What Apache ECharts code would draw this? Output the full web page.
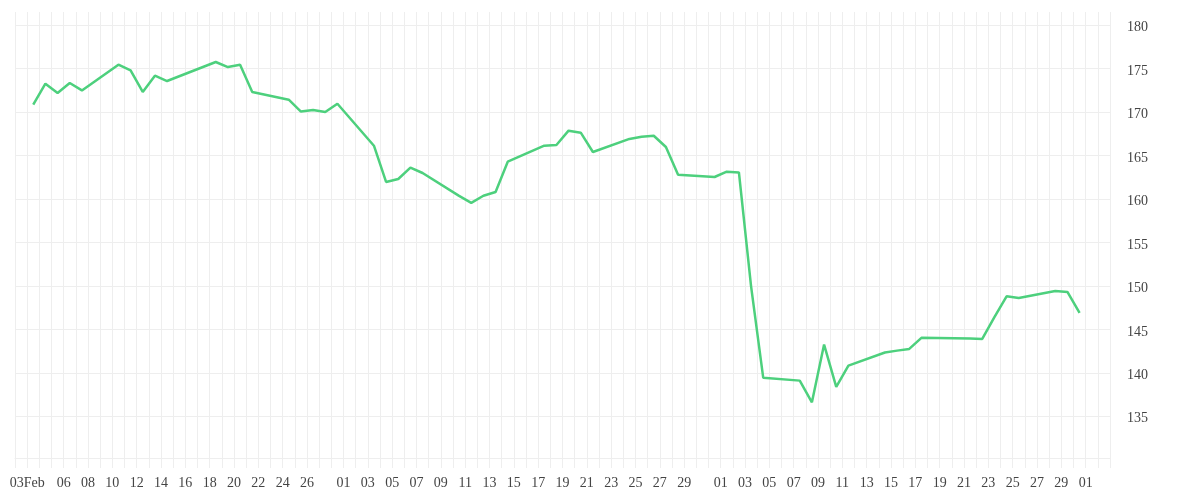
<!DOCTYPE html>
<html>
<head>
<meta charset="utf-8">
<script src="https://cdn.jsdelivr.net/npm/echarts@6/dist/echarts.min.js"></script>
<style>html,body{margin:0;padding:0;background:#fff;}#chart{width:1200px;height:500px;}</style>
</head>
<body>
<div id="chart"></div>
<script>
// Trading dates (2019) and closing values
const dates = [
  '2019-02-04','2019-02-05','2019-02-06','2019-02-07','2019-02-08',
  '2019-02-11','2019-02-12','2019-02-13','2019-02-14','2019-02-15',
  '2019-02-19','2019-02-20','2019-02-21','2019-02-22',
  '2019-02-25','2019-02-26','2019-02-27','2019-02-28','2019-03-01',
  '2019-03-04','2019-03-05','2019-03-06','2019-03-07','2019-03-08',
  '2019-03-11','2019-03-12','2019-03-13','2019-03-14','2019-03-15',
  '2019-03-18','2019-03-19','2019-03-20','2019-03-21','2019-03-22',
  '2019-03-25','2019-03-26','2019-03-27','2019-03-28','2019-03-29',
  '2019-04-01','2019-04-02','2019-04-03','2019-04-04','2019-04-05',
  '2019-04-08','2019-04-09','2019-04-10','2019-04-11','2019-04-12',
  '2019-04-15','2019-04-16','2019-04-17','2019-04-18',
  '2019-04-22','2019-04-23','2019-04-24','2019-04-25','2019-04-26',
  '2019-04-29','2019-04-30','2019-05-01'
];
const values = [
  170.84, 173.25, 172.18, 173.33, 172.48,
  175.44, 174.78, 172.30, 174.17, 173.56,
  175.75, 175.17, 175.44, 172.30,
  171.41, 170.05, 170.23, 170.00, 170.95,
  166.12, 161.95, 162.29, 163.59, 162.98,
  160.35, 159.54, 160.37, 160.80, 164.28,
  166.12, 166.20, 167.85, 167.62, 165.40,
  166.90, 167.16, 167.27, 165.97, 162.79,
  162.52, 163.13, 163.05, 149.95, 139.42,
  139.10, 136.61, 143.25, 138.38, 140.83,
  142.33, 142.55, 142.75, 144.02,
  143.95, 143.90, 146.40, 148.80, 148.60,
  149.40, 149.30, 146.89
];
// X tick labels
const xTickDates = [
  '2019-02-03','2019-02-06','2019-02-08','2019-02-10','2019-02-12','2019-02-14','2019-02-16',
  '2019-02-18','2019-02-20','2019-02-22','2019-02-24','2019-02-26',
  '2019-03-01','2019-03-03','2019-03-05','2019-03-07','2019-03-09','2019-03-11','2019-03-13',
  '2019-03-15','2019-03-17','2019-03-19','2019-03-21','2019-03-23','2019-03-25','2019-03-27','2019-03-29',
  '2019-04-01','2019-04-03','2019-04-05','2019-04-07','2019-04-09','2019-04-11','2019-04-13',
  '2019-04-15','2019-04-17','2019-04-19','2019-04-21','2019-04-23','2019-04-25','2019-04-27','2019-04-29',
  '2019-05-01'
];
const xTickTexts = [
  '03Feb','06','08','10','12','14','16','18','20','22','24','26',
  '01','03','05','07','09','11','13','15','17','19','21','23','25','27','29',
  '01','03','05','07','09','11','13','15','17','19','21','23','25','27','29',
  '01'
];
const axisStart = '2019-02-02';
const axisEnd = '2019-05-03';

function dayNum(s) {
  const p = s.split('-').map(Number);
  return Math.round(Date.UTC(p[0], p[1] - 1, p[2]) / 86400000);
}
const labelMap = {};
xTickDates.forEach((d, i) => { labelMap[dayNum(d)] = xTickTexts[i]; });
const seriesData = dates.map((d, i) => [dayNum(d) - 0.5, values[i]]);

const gridColor = '#eeeeee';
const font = 'Liberation Serif';
const textColor = '#444';

const chart = echarts.init(document.getElementById('chart'), null, {renderer: 'canvas'});
chart.setOption({
  animation: false,
  grid: {left: 15, right: 90, top: 12, bottom: 42, containLabel: false},
  xAxis: {
    type: 'value',
    min: dayNum(axisStart),
    max: dayNum(axisEnd),
    interval: 1,
    axisLine: {show: true, lineStyle: {color: gridColor}},
    axisTick: {show: true, length: 10, lineStyle: {color: gridColor}},
    splitLine: {show: true, lineStyle: {color: gridColor, width: 1}},
    axisLabel: {
      show: true,
      hideOverlap: false,
      margin: 18,
      color: textColor,
      fontFamily: font,
      fontSize: 14,
      formatter: function (v) {
        const k = Math.round(v);
        return labelMap[k] !== undefined ? labelMap[k] : '';
      }
    }
  },
  yAxis: {
    type: 'value',
    position: 'right',
    min: 130.2,
    max: 181.5,
    splitNumber: 10,
    axisLine: {show: false},
    axisTick: {show: false},
    splitLine: {show: true, showMaxLine: false, lineStyle: {color: gridColor, width: 1}},
    axisLabel: {
      margin: 17,
      color: textColor,
      fontFamily: font,
      fontSize: 14,
      rich: {
        v: {padding: [5, 0, 0, 0], color: textColor, fontFamily: font, fontSize: 14}
      },
      formatter: function (v) {
        return Math.abs(v / 5 - Math.round(v / 5)) < 1e-6 ? '{v|' + Math.round(v) + '}' : '';
      }
    }
  },
  series: [{
    type: 'line',
    data: seriesData,
    showSymbol: false,
    symbol: 'none',
    lineStyle: {color: '#4dd07d', width: 2.5},
    itemStyle: {color: '#4dd07d'}
  }]
});
</script>
</body>
</html>
